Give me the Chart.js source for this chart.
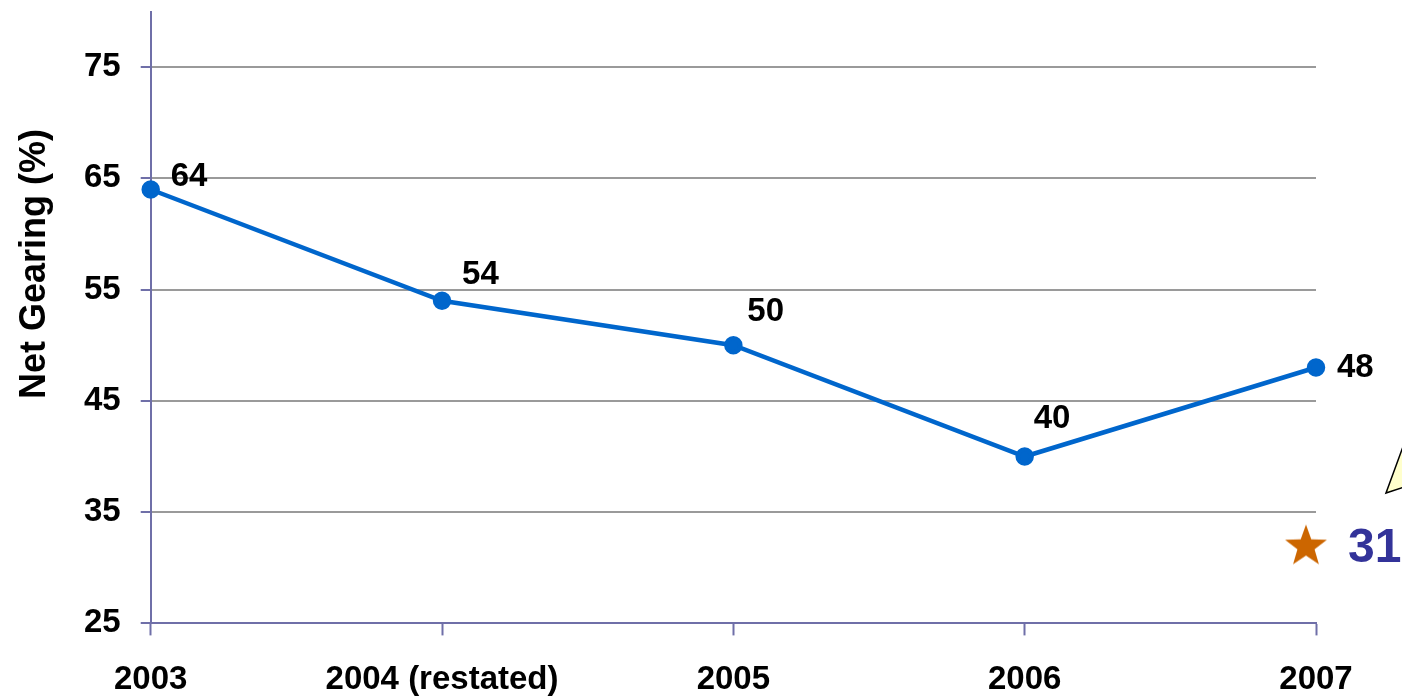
<!DOCTYPE html>
<html>
<head>
<meta charset="utf-8">
<script src="https://cdn.jsdelivr.net/npm/chart.js"></script>
<style>
  html, body { margin: 0; padding: 0; background: #fff; }
  #wrap { width: 1402px; height: 700px; }
</style>
</head>
<body>
<div id="wrap"><canvas id="chart" width="1402" height="700"></canvas></div>
<script>
  const categories = ['2003', '2004 (restated)', '2005', '2006', '2007'];
  const netGearing = [64, 54, 50, 40, 48];
  const targetPoint = [null, null, null, null, 32];
  const targetText = '31';
  const yTicks = [25, 35, 45, 55, 65, 75];

  const FONT = '"Liberation Sans", Arial, sans-serif';
  const AXIS_COLOR = '#6f6fa8';
  const GRID_COLOR = '#9a9a9a';
  const LINE_COLOR = '#0066cc';

  // label offsets (dx, dy) per point, as placed in the original
  const labelShift = [[20, -13], [20, -26], [14, -33], [9, -38], [21, 0]];

  // star image used as point style, drawn a bit left of the category
  function makeStar() {
    const c = document.createElement('canvas');
    c.width = 64;
    c.height = 48;
    const g = c.getContext('2d');
    const cx = 22, cy = 25, R = 22, r = 9;
    g.beginPath();
    for (let i = 0; i < 10; i++) {
      const rad = i % 2 === 0 ? R : r;
      const a = -Math.PI / 2 + i * Math.PI / 5;
      g.lineTo(cx + rad * Math.cos(a), cy + rad * Math.sin(a));
    }
    g.closePath();
    g.fillStyle = '#cc6600';
    g.fill();
    return c;
  }

  const labelsPlugin = {
    id: 'pointLabels',
    afterDatasetsDraw(chart) {
      const ctx = chart.ctx;
      ctx.save();
      ctx.font = 'bold 33px ' + FONT;
      ctx.fillStyle = '#000';
      ctx.textAlign = 'left';
      ctx.textBaseline = 'middle';
      chart.getDatasetMeta(0).data.forEach((pt, i) => {
        ctx.fillText(String(netGearing[i]), pt.x + labelShift[i][0], pt.y + labelShift[i][1]);
      });
      const star = chart.getDatasetMeta(1).data[4];
      ctx.font = 'bold 48px ' + FONT;
      ctx.fillStyle = '#333399';
      ctx.fillText(targetText, star.x + 32, star.y + 3);

      // piece of a callout at the right edge
      ctx.beginPath();
      ctx.moveTo(1386, 493);
      ctx.lineTo(1404, 444);
      ctx.lineTo(1404, 487);
      ctx.closePath();
      ctx.fillStyle = '#ffffcc';
      ctx.fill();
      ctx.lineWidth = 1.5;
      ctx.strokeStyle = '#000';
      ctx.stroke();

      // y axis title
      ctx.translate(35, 264);
      ctx.rotate(-Math.PI / 2);
      ctx.font = 'bold 36px ' + FONT;
      ctx.fillStyle = '#000';
      ctx.textAlign = 'center';
      ctx.fillText('Net Gearing (%)', 0, 0);
      ctx.restore();
    }
  };

  new Chart(document.getElementById('chart'), {
    type: 'line',
    data: {
      labels: categories,
      datasets: [
        {
          label: 'Net Gearing',
          data: netGearing,
          borderColor: LINE_COLOR,
          backgroundColor: LINE_COLOR,
          borderWidth: 4.5,
          pointRadius: 7,
          pointHoverRadius: 7,
          tension: 0,
          clip: false
        },
        {
          label: 'Target',
          data: targetPoint,
          showLine: false,
          pointStyle: makeStar(),
          clip: false
        }
      ]
    },
    options: {
      responsive: false,
      animation: false,
      events: [],
      layout: { padding: { left: 64, right: 86, top: 9, bottom: -25 } },
      plugins: {
        legend: { display: false },
        tooltip: { enabled: false }
      },
      scales: {
        x: {
          offset: false,
          grid: {
            drawOnChartArea: false,
            drawTicks: true,
            tickLength: 12,
            tickColor: AXIS_COLOR,
            tickWidth: 2
          },
          border: { color: AXIS_COLOR, width: 2 },
          ticks: {
            color: '#000',
            padding: 25,
            maxRotation: 0,
            autoSkip: false,
            font: { family: FONT, size: 33, weight: 'bold' }
          }
        },
        y: {
          min: 25,
          max: 80,
          afterBuildTicks(scale) {
            scale.ticks = yTicks.map(v => ({ value: v }));
          },
          afterFit(scale) {
            // top tick (75) sits below the axis end, no room needed above
            scale.paddingTop = 0;
          },
          grid: {
            color: GRID_COLOR,
            lineWidth: 2,
            tickLength: 10,
            tickColor: AXIS_COLOR,
            tickWidth: 2
          },
          border: { color: AXIS_COLOR, width: 2 },
          ticks: {
            color: '#000',
            padding: 20,
            font: { family: FONT, size: 33, weight: 'bold', lineHeight: 0.3 }
          }
        }
      }
    },
    plugins: [labelsPlugin]
  });
</script>
</body>
</html>
